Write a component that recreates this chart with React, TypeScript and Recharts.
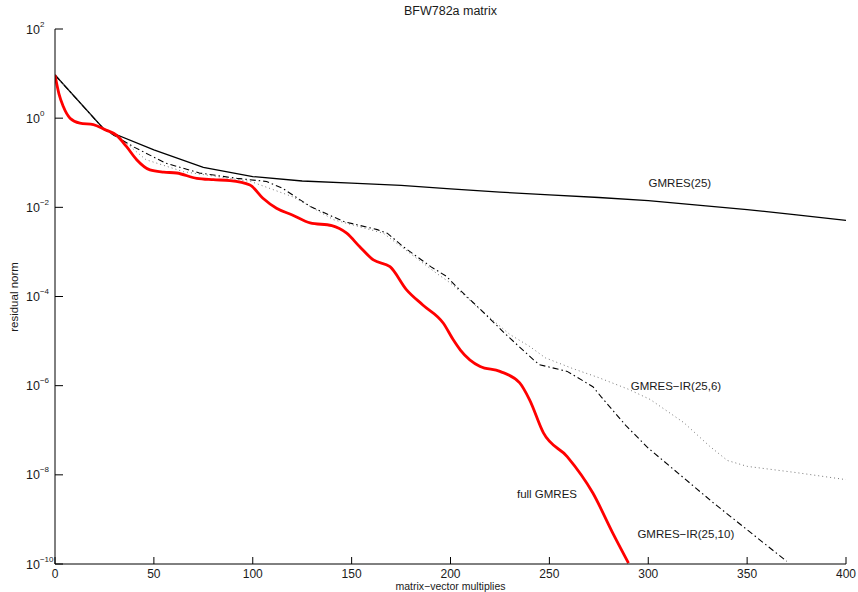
import React from 'react';
import { LineChart, Line, XAxis, YAxis, ReferenceDot } from 'recharts';

const xTicks = [0, 50, 100, 150, 200, 250, 300, 350, 400];
const yTicks = [1e-10, 1e-8, 1e-6, 1e-4, 1e-2, 1, 1e2];
const yExponents = ['−10', '−8', '−6', '−4', '−2', '0', '2'];

const gmres25X = [0, 25, 50, 75, 100, 125, 150, 175, 200, 225, 250, 275, 300, 325, 350, 375, 400];
const gmres25Y = [9.3, 0.55, 0.195, 0.079, 0.049, 0.039, 0.035, 0.031, 0.026, 0.022, 0.019, 0.0166, 0.0141, 0.0112, 0.0089, 0.0068, 0.0051];

const ir10X = [0, 25, 40, 56, 73, 92, 107, 115, 129, 146, 163, 168, 176, 190, 198, 203, 217, 228, 242, 245, 259, 272, 276, 289, 300, 333, 370];
const ir10Y = [9.3, 0.55, 0.224, 0.098, 0.059, 0.0447, 0.038, 0.0269, 0.0105, 0.00479, 0.00316, 0.00263, 0.00132, 4.68e-4, 2.82e-4, 1.66e-4, 4.27e-5, 1.41e-5, 3.8e-6, 2.95e-6, 2.09e-6, 9.5e-7, 5.75e-7, 1.23e-7, 3.98e-8, 2.34e-9, 1.15e-10];

const ir6X = [0, 25, 36, 46, 65, 99, 120, 129, 141, 166, 175, 193, 200, 217, 230, 240, 248, 262, 275, 290, 301, 318, 331, 340, 350, 375, 400];
const ir6Y = [9.3, 0.55, 0.275, 0.117, 0.063, 0.038, 0.0174, 0.0105, 0.00525, 0.00263, 0.00132, 3.3e-4, 2.0e-4, 4.27e-5, 1.41e-5, 7.6e-6, 4.2e-6, 2.4e-6, 1.51e-6, 8.3e-7, 4.9e-7, 1.48e-7, 4.4e-8, 2.1e-8, 1.55e-8, 1.12e-8, 7.8e-9];

const fullX = [0, 2, 4.2, 7.6, 12.6, 19.4, 25, 31.2, 36.2, 41.3, 48, 55, 61.5, 71.7, 80, 88.5, 98.6, 105, 112, 120, 129, 140, 147.5, 154, 161, 169.4, 177.8, 186, 196.4, 201.4, 205, 215, 225, 235, 240, 247, 259, 272, 282, 290];
const fullY = [9.3, 3.5, 1.82, 1.0, 0.776, 0.72, 0.56, 0.41, 0.229, 0.117, 0.069, 0.0617, 0.0589, 0.0447, 0.0417, 0.0398, 0.0316, 0.0162, 0.00955, 0.00676, 0.00447, 0.00389, 0.00263, 0.00132, 6.6e-4, 4.68e-4, 1.41e-4, 6.46e-5, 2.51e-5, 1.07e-5, 6.3e-6, 2.69e-6, 2.09e-6, 1.15e-6, 4.8e-7, 8.7e-8, 2.57e-8, 3.9e-9, 5.0e-10, 1.05e-10];

const seriesLabels = ['GMRES(25)', 'GMRES−IR(25,6)', 'full GMRES', 'GMRES−IR(25,10)'];
const labelX = [316, 314, 248.8, 319];
const labelY = [0.036, 1.0e-6, 3.8e-9, 4.8e-10];

const zip = (xs: number[], ys: number[]) => xs.map((x, i) => ({ x, y: ys[i] }));

const FONT = '"Liberation Sans", Arial, Helvetica, sans-serif';
const TXT = '#1a1a1a';

const YTick = (props: any) => {
  const { x, y, index } = props;
  return (
    <g>
      <line x1={x} x2={x + 8} y1={y} y2={y} stroke="#000" strokeWidth={1} />
      <text x={26} y={y + 4.5} fontSize={12.5} fill={TXT} fontFamily={FONT}>
        10
        <tspan dy={-7} fontSize={8}>{yExponents[index]}</tspan>
      </text>
    </g>
  );
};

const XTick = (props: any) => {
  const { x, y, payload } = props;
  return (
    <g>
      <line x1={x} x2={x} y1={y} y2={y - 7} stroke="#000" strokeWidth={1} />
      <text x={x} y={y + 13.5} fontSize={12} fill={TXT} fontFamily={FONT} textAnchor="middle">
        {payload.value}
      </text>
    </g>
  );
};

export default function App() {
  return (
    <div style={{ position: 'absolute', left: 0, top: 0, width: 858, height: 592, background: '#fff', overflow: 'hidden' }}>
      <LineChart width={858} height={592} margin={{ top: 29, right: 12, bottom: 0, left: 0 }}>
        <XAxis
          type="number"
          dataKey="x"
          domain={[0, 400]}
          ticks={xTicks}
          tick={<XTick />}
          tickLine={false}
          tickSize={0}
          tickMargin={0}
          height={28}
          axisLine={{ stroke: '#000', strokeWidth: 1 }}
          allowDataOverflow
        />
        <YAxis
          type="number"
          dataKey="y"
          scale="log"
          domain={[1e-10, 100]}
          ticks={yTicks}
          tick={<YTick />}
          tickLine={false}
          tickSize={0}
          tickMargin={0}
          width={55}
          axisLine={{ stroke: '#000', strokeWidth: 1 }}
          allowDataOverflow
        />
        <Line data={zip(gmres25X, gmres25Y)} dataKey="y" type="linear" stroke="#000" strokeWidth={1.3} dot={false} isAnimationActive={false} />
        <Line data={zip(ir6X, ir6Y)} dataKey="y" type="linear" stroke="#777" strokeWidth={1} strokeDasharray="1 3" dot={false} isAnimationActive={false} />
        <Line data={zip(ir10X, ir10Y)} dataKey="y" type="linear" stroke="#000" strokeWidth={1.1} strokeDasharray="6 3 1.5 3" dot={false} isAnimationActive={false} />
        <Line data={zip(fullX, fullY)} dataKey="y" type="monotone" stroke="#ff0000" strokeWidth={2.8} dot={false} isAnimationActive={false} />
        {seriesLabels.map((s, i) => (
          <ReferenceDot
            key={s}
            x={labelX[i]}
            y={labelY[i]}
            r={0}
            fill="none"
            stroke="none"
            label={{ value: s, position: 'center', fontSize: 11.5, fill: TXT, fontFamily: FONT }}
          />
        ))}
      </LineChart>
      <div style={{ position: 'absolute', left: 0, width: 901, top: 581, textAlign: 'center', fontFamily: FONT, fontSize: 10.5, color: TXT, lineHeight: '11px' }}>
        matrix−vector multiplies
      </div>
      <div style={{ position: 'absolute', left: 0, width: 901, top: 4, textAlign: 'center', fontFamily: FONT, fontSize: 12.5, color: TXT, lineHeight: '15px' }}>
        BFW782a matrix
      </div>
      <div style={{ position: 'absolute', left: 14, top: 297, width: 0, height: 0 }}>
        <div style={{ position: 'absolute', transform: 'translate(-50%, -50%) rotate(-90deg)', whiteSpace: 'nowrap', fontFamily: FONT, fontSize: 11.5, color: TXT, lineHeight: '13px' }}>
          residual norm
        </div>
      </div>
    </div>
  );
}
